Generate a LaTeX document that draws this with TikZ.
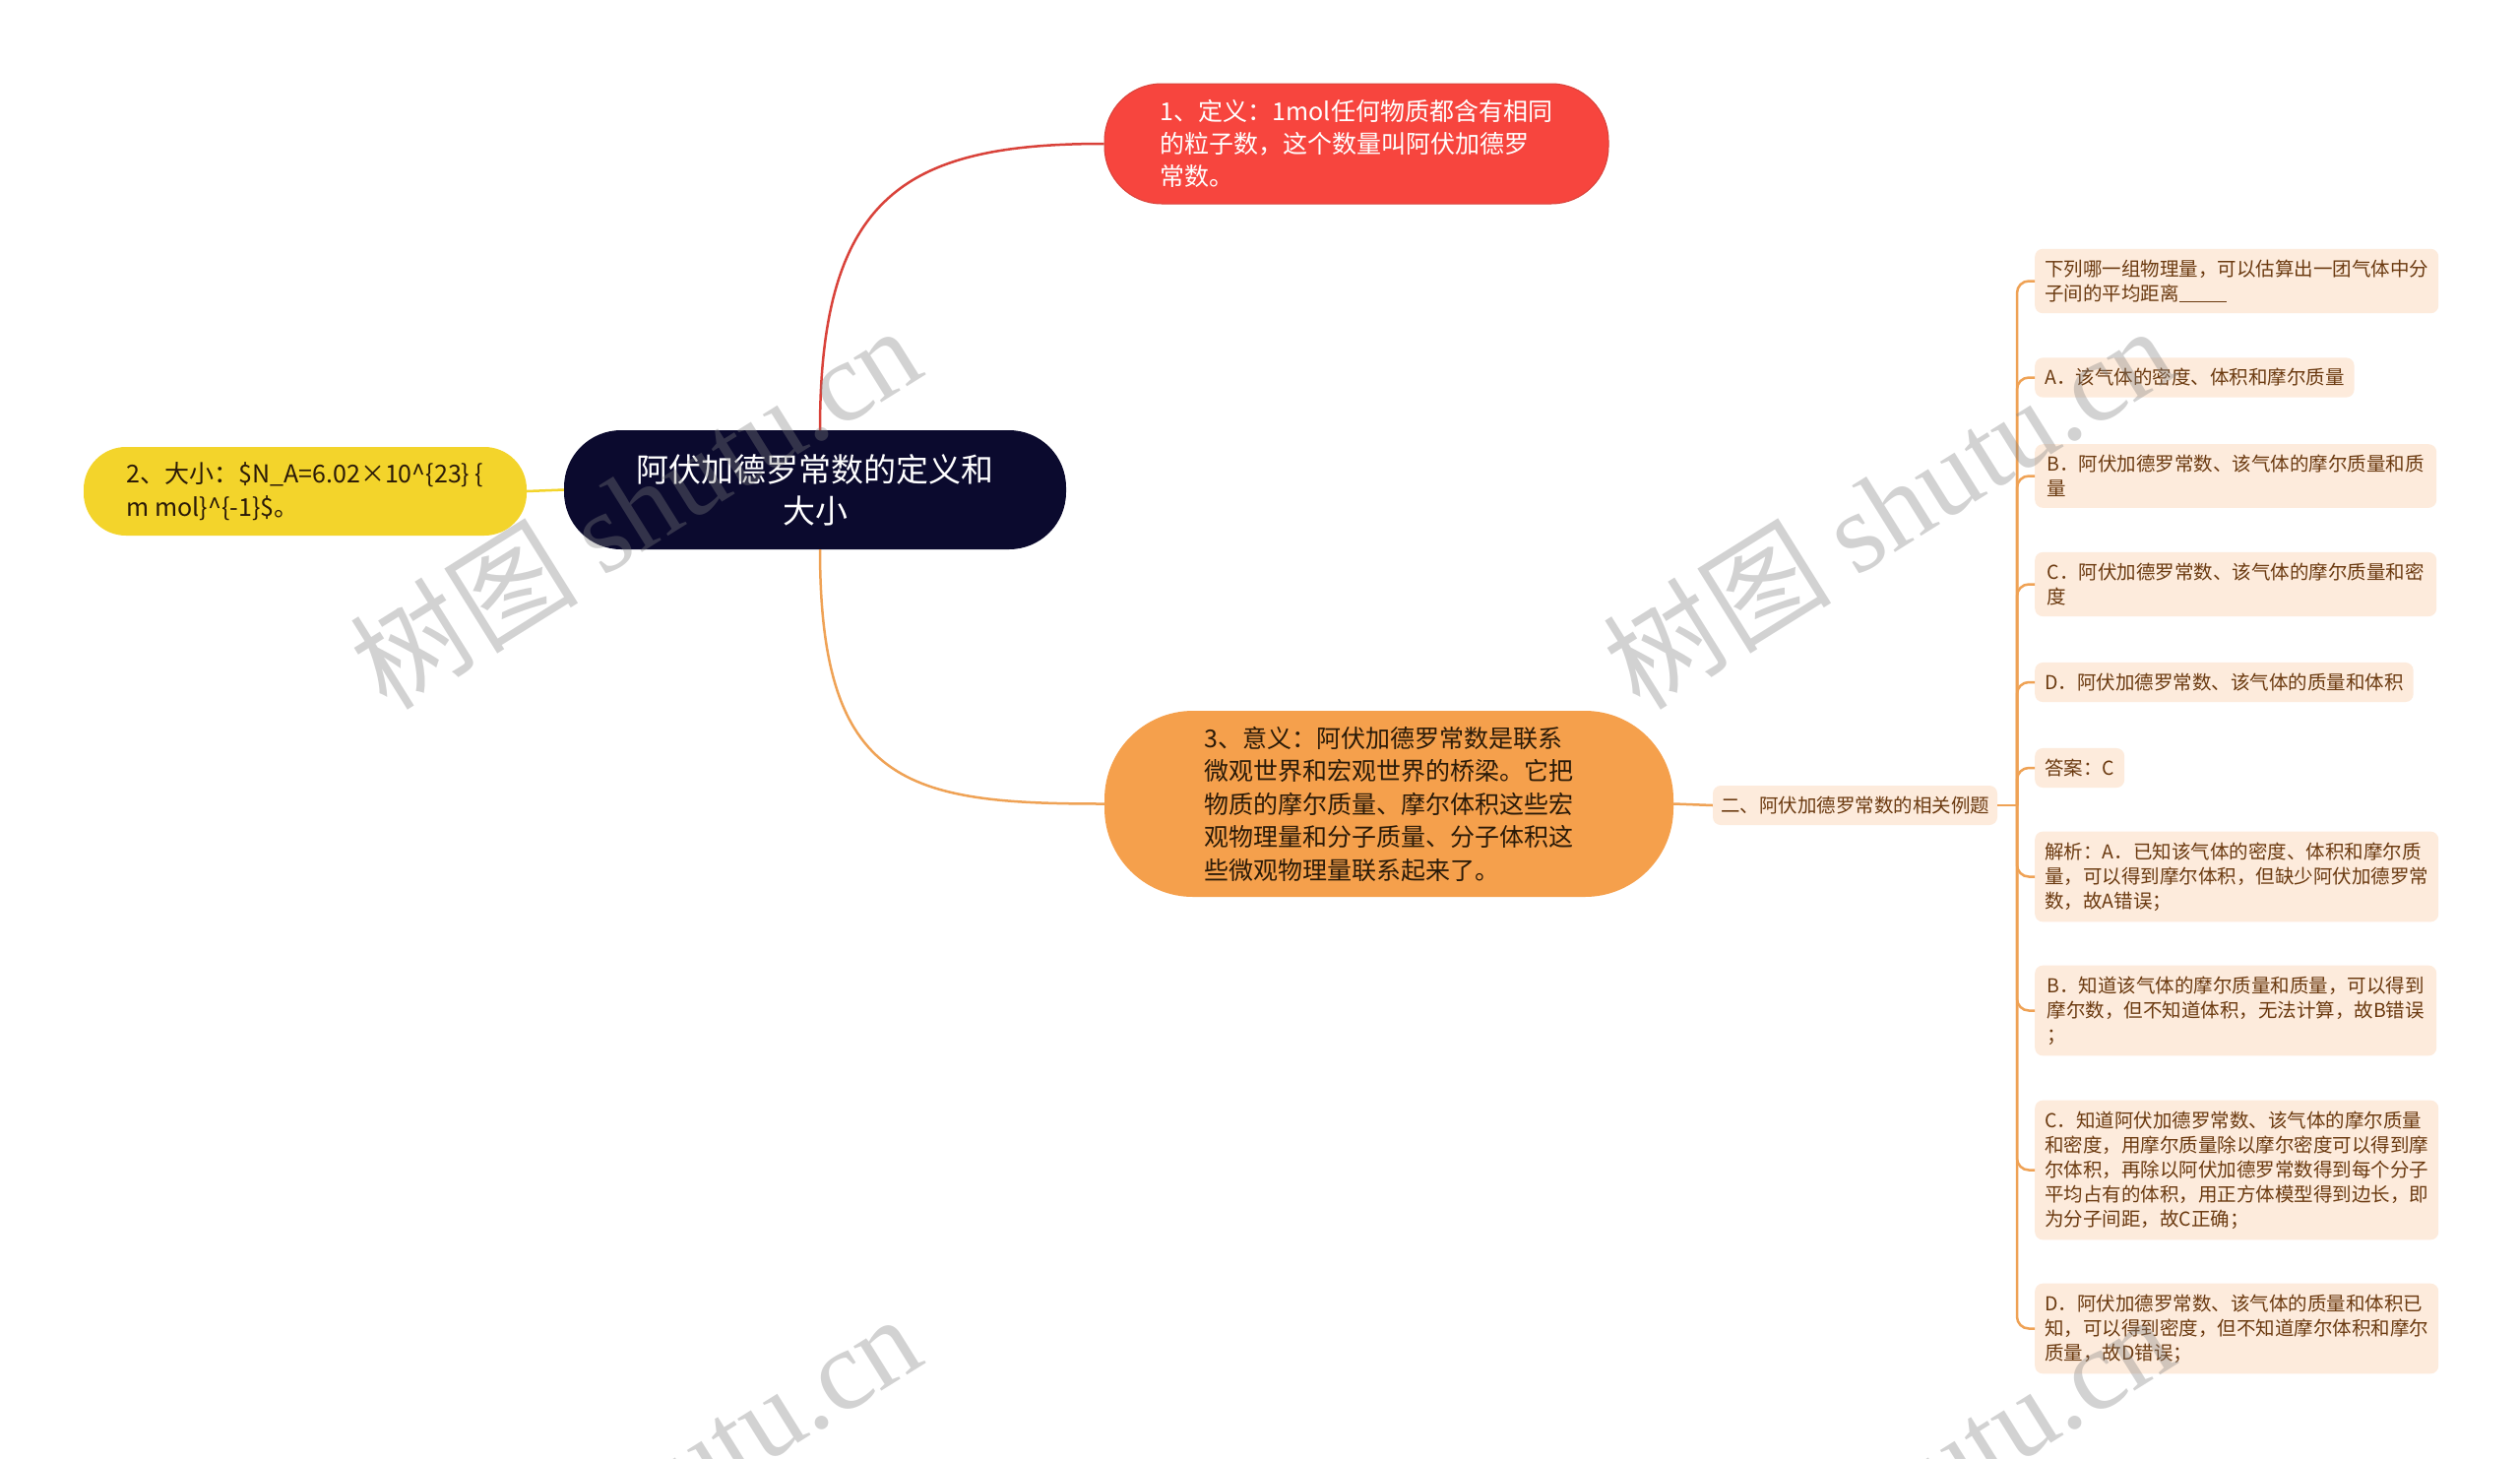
\documentclass[tikz,border=0pt]{standalone}
\usepackage{fontspec}
\setmainfont{Noto Sans CJK SC}
\newfontfamily\wmfont{Liberation Serif}
\usetikzlibrary{calc}
\definecolor{navy}{HTML}{0B0A2E}
\definecolor{redfill}{HTML}{F7453E}
\definecolor{redline}{HTML}{D9423A}
\definecolor{yelfill}{HTML}{F3D42B}
\definecolor{orafill}{HTML}{F5A04C}
\definecolor{oraline}{HTML}{EFA255}
\definecolor{leaffill}{HTML}{FDEBDC}
\definecolor{leaftext}{HTML}{6B3A10}
\definecolor{darktext}{HTML}{2A1A08}
\tikzset{
  bignode/.style={rectangle, inner sep=0pt, align=left},
  leafbox/.style={anchor=west, fill=leaffill, rounded corners=8pt, inner xsep=10pt, inner ysep=11pt,
    align=left, text=leaftext, font=\fontsize{19.5}{25}\selectfont},
  multi/.style={minimum width=408pt},
  conn/.style={line width=2.5pt},
  bline/.style={conn, draw=oraline, rounded corners=12pt},
  wm/.style={text=gray, opacity=0.35, font=\fontsize{116}{120}\selectfont, rotate=32}
}
\begin{document}
\begin{tikzpicture}[x=1pt,y=-1pt]
\useasboundingbox (0,0) rectangle (2560,1481);
\fill[white] (0,0) rectangle (2560,1481);

% main nodes
\node[bignode, fill=navy, rounded corners=58pt, minimum width=510pt, minimum height=121pt,
  align=center, text=white, font=\fontsize{33}{42}\selectfont] (c) at (828,497.5)
  {阿伏加德罗常数的定义和\\大小};
\node[bignode, fill=redfill, draw=redline, line width=1pt, rounded corners=58pt, minimum width=512pt, minimum height=122pt,
  text=white, font=\fontsize{25}{33}\selectfont] (n1) at (1378,146)
  {1、定义：1mol任何物质都含有相同\\的粒子数，这个数量叫阿伏加德罗\\常数。};
\node[bignode, fill=yelfill, rounded corners=43pt, minimum width=450pt, minimum height=90pt,
  text=darktext, font=\fontsize{25}{34}\selectfont] (n2) at (310,499)
  {2、大小：\$N\_A=6.02×10\textasciicircum\{23\} \{\\m mol\}\textasciicircum\{-1\}\$。};
\node[bignode, fill=orafill, rounded corners=90pt, minimum width=578pt, minimum height=189pt,
  text=darktext, font=\fontsize{25}{33.5}\selectfont] (n3) at (1411,816.5)
  {3、意义：阿伏加德罗常数是联系\\微观世界和宏观世界的桥梁。它把\\物质的摩尔质量、摩尔体积这些宏\\观物理量和分子质量、分子体积这\\些微观物理量联系起来了。};
\node[fill=leaffill, rounded corners=8pt, minimum width=289pt, minimum height=40pt, inner sep=0pt,
  text=leaftext, font=\fontsize{19.5}{25}\selectfont] (q) at (1884.5,818)
  {二、阿伏加德罗常数的相关例题};

% leaves
\node[leafbox, multi] (l1) at (2067,285.5) {下列哪一组物理量，可以估算出一团气体中分\\子间的平均距离\rule[-2pt]{48pt}{1.5pt}};
\node[leafbox] (l2) at (2067,383.5) {A．该气体的密度、体积和摩尔质量};
\node[leafbox, multi] (l3) at (2067,483.5) {B．阿伏加德罗常数、该气体的摩尔质量和质\\量};
\node[leafbox, multi] (l4) at (2067,593.5) {C．阿伏加德罗常数、该气体的摩尔质量和密\\度};
\node[leafbox] (l5) at (2067,693) {D．阿伏加德罗常数、该气体的质量和体积};
\node[leafbox] (l6) at (2067,780) {答案：C};
\node[leafbox, multi] (l7) at (2067,890.5) {解析：A．已知该气体的密度、体积和摩尔质\\量，可以得到摩尔体积，但缺少阿伏加德罗常\\数，故A错误；};
\node[leafbox, multi] (l8) at (2067,1026.5) {B．知道该气体的摩尔质量和质量，可以得到\\摩尔数，但不知道体积，无法计算，故B错误\\；};
\node[leafbox, multi] (l9) at (2067,1188.5) {C．知道阿伏加德罗常数、该气体的摩尔质量\\和密度，用摩尔质量除以摩尔密度可以得到摩\\尔体积，再除以阿伏加德罗常数得到每个分子\\平均占有的体积，用正方体模型得到边长，即\\为分子间距，故C正确；};
\node[leafbox, multi] (l10) at (2067,1349.5) {D．阿伏加德罗常数、该气体的质量和体积已\\知，可以得到密度，但不知道摩尔体积和摩尔\\质量，故D错误；};

% connectors
\draw[conn, draw=redline] ($(c.north)+(5,0)$) .. controls ($(c.north)+(5,-240)$) and ($(n1.west)+(-200,0)$) .. (n1.west);
\draw[conn, draw=oraline] ($(c.south)+(5,0)$) .. controls ($(c.south)+(5,240)$) and ($(n3.west)+(-200,0)$) .. (n3.west);
\draw[conn, draw=yelfill] (n2.east) -- (c.west);
\draw[conn, draw=oraline] (n3.east) -- (q.west);
\coordinate (j) at (2049,818);
\draw[conn, draw=oraline] (q.east) -- (j);
\foreach \l in {l1,l2,l3,l4,l5,l6,l7,l8,l9,l10}{
  \draw[bline] (j) |- (\l.west);
}

% watermarks
\begin{scope}
\clip (0,0) rectangle (2560,1481);
\node[wm] at (645,514) {树图 {\wmfont shutu.cn}};
\node[wm] at (1918,514) {树图 {\wmfont shutu.cn}};
\node[wm] at (645,1518) {树图 {\wmfont shutu.cn}};
\node[wm] at (1918,1518) {树图 {\wmfont shutu.cn}};
\end{scope}
\end{tikzpicture}
\end{document}
